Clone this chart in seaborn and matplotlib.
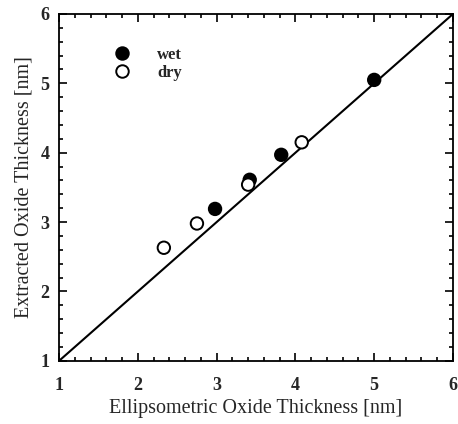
import matplotlib
matplotlib.use("Agg")
import matplotlib.pyplot as plt
import seaborn as sns
import pandas as pd
from matplotlib.lines import Line2D
from matplotlib.ticker import MultipleLocator

# Data
wet_x = [2.98, 3.42, 3.82, 5.0]
wet_y = [3.19, 3.61, 3.97, 5.05]
dry_x = [2.33, 2.75, 3.40, 4.08]
dry_y = [2.63, 2.98, 3.54, 4.15]
ideal = [1, 6]
tick_vals = [1, 2, 3, 4, 5, 6]

df = pd.DataFrame({
    "x": wet_x + dry_x,
    "y": wet_y + dry_y,
    "kind": ["wet"] * len(wet_x) + ["dry"] * len(dry_x),
})
line_df = pd.DataFrame({"x": ideal, "y": ideal})

sns.set_theme(style="ticks")
plt.rcParams["font.family"] = ["Liberation Serif", "DejaVu Serif"]

fig = plt.figure(figsize=(4.58, 4.24), dpi=100)
ax = fig.add_axes([0.129, 0.149, 0.860, 0.818])

sns.lineplot(data=line_df, x="x", y="y", ax=ax, color="black", linewidth=1.5)
sns.scatterplot(data=df, x="x", y="y", hue="kind",
                palette={"wet": "black", "dry": "white"},
                edgecolor="black", linewidth=1.4, s=80, ax=ax, legend=False, zorder=3)

ax.set_xlim(1, 6)
ax.set_ylim(1, 6)
ax.set_xticks(tick_vals)
ax.set_yticks(tick_vals)
ax.xaxis.set_minor_locator(MultipleLocator(0.2))
ax.yaxis.set_minor_locator(MultipleLocator(0.2))
ax.tick_params(which="both", direction="in", top=True, right=True, color="black", width=1.2)
ax.tick_params(which="major", length=6, labelsize=13)
ax.tick_params(axis="x", which="major", pad=12)
ax.tick_params(axis="y", which="major", pad=7)
ax.tick_params(which="minor", length=3)
for lab in ax.get_xticklabels() + ax.get_yticklabels():
    lab.set_fontweight("bold")
for sp in ax.spines.values():
    sp.set_linewidth(1.3)
    sp.set_color("black")

ax.set_xlabel("Ellipsometric Oxide Thickness [nm]", fontsize=14.5, labelpad=3)
ax.set_ylabel("Extracted Oxide Thickness [nm]", fontsize=14.5, labelpad=5)

handles = [
    Line2D([], [], marker="o", linestyle="", markerfacecolor="black",
           markeredgecolor="black", markersize=9, markeredgewidth=1.4, label="wet"),
    Line2D([], [], marker="o", linestyle="", markerfacecolor="white",
           markeredgecolor="black", markersize=9, markeredgewidth=1.4, label="dry"),
]
leg = ax.legend(handles=handles, loc="upper left", bbox_to_anchor=(0.08, 0.948),
                frameon=False, handletextpad=1.1, labelspacing=0.1,
                prop={"weight": "bold", "size": 12})

fig.savefig("out.png", dpi=100)
